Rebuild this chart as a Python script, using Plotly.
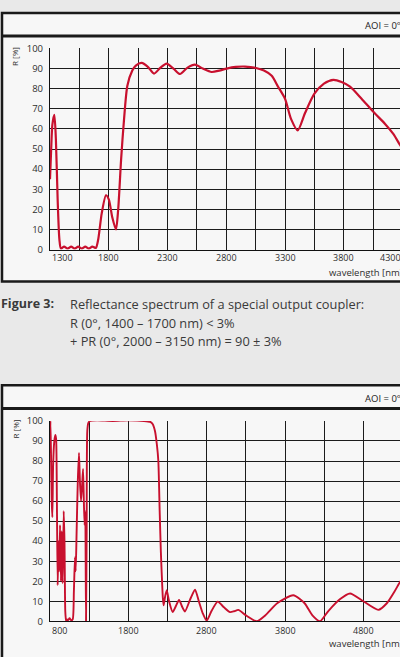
import plotly.graph_objects as go

# --- data ---
top_wl = [1300, 1310, 1320, 1337, 1350, 1365, 1380, 1393, 1420, 1450, 1480, 1510,
          1540, 1570, 1600, 1630, 1660, 1690, 1710, 1740, 1776, 1800, 1830, 1861,
          1880, 1905, 1930, 1958, 2000, 2030, 2080, 2130, 2185, 2240, 2292, 2350,
          2406, 2470, 2533, 2600, 2675, 2740, 2803, 2880, 2959, 3052, 3120, 3186,
          3240, 3299, 3350, 3407, 3470, 3549, 3630, 3711, 3780, 3852, 3950, 4050,
          4150, 4220, 4277, 4300]
top_r = [35, 50, 62, 67, 55, 25, 5, 0.5, 1.5, 0.5, 1.5, 0.5,
         1.5, 0.5, 1.5, 0.5, 1.5, 0.8, 5, 18, 27, 25, 16, 10,
         20, 45, 65, 81.5, 89, 91.5, 92.8, 91, 87.5, 90.5, 92.5, 90,
         87.3, 90.5, 92, 90, 88.3, 89, 90, 90.8, 91, 90.3, 89, 86.4,
         81, 75, 65, 59.3, 68, 77.5, 82.5, 84.4, 83.3, 81, 75, 68.5,
         62.5, 57.5, 52, 50]

bot_wl = [800, 805, 812, 822, 830, 840, 855, 868, 878, 888, 898, 908, 918, 928,
          940, 950, 962, 975, 985, 995, 1005, 1013, 1030, 1050, 1070, 1090, 1105,
          1119, 1128, 1140, 1155, 1170, 1182, 1196, 1210, 1222, 1232, 1242, 1250,
          1260, 1268, 1276, 1290, 1311, 1400, 1600, 1800, 2000, 2080, 2110, 2140,
          2165, 2183, 2200, 2215, 2226, 2240, 2250, 2268, 2290, 2320, 2366, 2400,
          2447, 2490, 2523, 2590, 2651, 2700, 2750, 2800, 2860, 2941, 3020, 3098,
          3150, 3204, 3300, 3439, 3550, 3700, 3906, 4050, 4150, 4247, 4350, 4500,
          4630, 4800, 4991, 5100, 5200, 5268, 5300]
bot_r = [84, 100, 86, 60, 52, 78, 90, 93, 91, 60, 18, 40, 25, 48,
         20, 45, 19, 55, 40, 5, 0, 1, 0.5, 1.5, 0.5, 1, 15,
         32, 25, 45, 70, 84, 70, 60, 68, 76, 60, 48, 55,
         0, 45, 95, 99, 100, 100.3, 100, 100.3, 100, 99.5, 98.5, 95,
         88, 80, 55, 35, 24, 12, 8, 12, 15.5, 10, 4.6, 7,
         10.6, 7, 4.9, 11, 15.8, 10, 4, 0.3, 5, 9.8, 7, 4.6,
         5, 5.7, 3, 0, 3, 9, 13, 9, 3, 0, 5, 11,
         13.9, 10, 5.7, 9, 15, 19.6, 21]

top_ticks = [1300, 1800, 2300, 2800, 3300, 3800, 4300]
bot_ticks = [800, 1800, 2800, 3800, 4800, 5800]
top_range = [1300, 4277]
bot_range = [800, 5268]

W, H = 400, 657
RED = '#c8102e'
GRID = '#1c1c1c'
TXT = '#2e2e2e'
FONT = 'Open Sans'


def px(p):
    return p / W


def py(p):
    return 1 - p / H


top_dom_x = [px(50), 1.0]
top_dom_y = [py(247.5), py(42.3)]
bot_dom_x = [px(50), 1.0]
bot_dom_y = [py(626.7), py(422.3)]

fig = go.Figure()
fig.add_trace(go.Scatter(x=top_wl, y=top_r, mode='lines', xaxis='x', yaxis='y',
                         line=dict(color=RED, width=2.2, shape='spline', smoothing=0.7),
                         hoverinfo='skip'))
fig.add_trace(go.Scatter(x=bot_wl, y=bot_r, mode='lines', xaxis='x2', yaxis='y2',
                         line=dict(color=RED, width=1.9, shape='spline', smoothing=0.6),
                         hoverinfo='skip'))


def xaxis(dom, rng, t0, dt):
    return dict(domain=dom, range=rng, tick0=t0, dtick=dt, showticklabels=False,
                showgrid=True, gridcolor=GRID, gridwidth=1.1, zeroline=False,
                showline=True, linecolor='#111111', linewidth=1.2, ticks='',
                minor=dict(tick0=t0, dtick=dt / 2, showgrid=True, gridcolor=GRID,
                           gridwidth=1.1))


def yaxis(dom):
    return dict(domain=dom, range=[0, 100], dtick=10, showgrid=True,
                gridcolor=GRID, gridwidth=1.1, zeroline=False, showline=True,
                linecolor='#111111', linewidth=1.2, ticks='outside', ticklen=4,
                tickcolor='rgba(0,0,0,0)', tickfont=dict(family=FONT, size=9.5, color=TXT))


fig.update_layout(
    width=W, height=H, margin=dict(l=0, r=0, t=0, b=0),
    paper_bgcolor='#e9e9e9', plot_bgcolor='#fafafa', showlegend=False,
    xaxis=xaxis(top_dom_x, top_range, 1300, 500),
    yaxis=yaxis(top_dom_y),
    xaxis2=dict(xaxis(bot_dom_x, bot_range, 800, 1000), anchor='y2'),
    yaxis2=dict(yaxis(bot_dom_y), anchor='x2'),
)

# boxes around each chart (cut off by the right/bottom of the crop)
shapes = []
for top, sep, bottom in [(6, 29.5, 280), (386, 409.5, 680)]:
    shapes.append(dict(type='rect', xref='paper', yref='paper', x0=px(2), x1=px(420),
                       y0=py(bottom), y1=py(top), line=dict(color='#1a1a1a', width=2.5),
                       fillcolor='#f7f7f7', layer='below'))
    shapes.append(dict(type='line', xref='paper', yref='paper', x0=px(2), x1=px(420),
                       y0=py(sep), y1=py(sep), line=dict(color='#1a1a1a', width=3)))
fig.update_layout(shapes=shapes)

ann = []


def tick_labels(ticks, rng, dom, ypix, last_is_end):
    for i, v in enumerate(ticks):
        xp = dom[0] + (v - rng[0]) / (rng[1] - rng[0]) * (dom[1] - dom[0])
        anchor = 'center'
        if i == 0:
            anchor = 'left'
        elif i == len(ticks) - 1 and last_is_end:
            anchor = 'right'
        ann.append(dict(x=xp, y=py(ypix), xref='paper', yref='paper', text=str(v),
                        showarrow=False, xanchor=anchor, yanchor='middle',
                        font=dict(family=FONT, size=9, color=TXT)))


tick_labels(top_ticks, top_range, top_dom_x, 256, True)
tick_labels(bot_ticks, bot_range, bot_dom_x, 636, True)

for ytxt, yr, yw in [(19, 51, 271), (399, 431, 649)]:
    ann.append(dict(x=px(403), y=py(ytxt), xref='paper', yref='paper', text='AOI = 0°',
                    showarrow=False, xanchor='right', yanchor='middle',
                    font=dict(family=FONT, size=9.5, color='#222222')))
    ann.append(dict(x=px(15), y=py(yr), xref='paper', yref='paper', text='R [%]',
                    textangle=-90, showarrow=False, xanchor='center', yanchor='middle',
                    font=dict(family=FONT, size=8, color=TXT)))
    ann.append(dict(x=px(405), y=py(yw), xref='paper', yref='paper',
                    text='wavelength [nm]', showarrow=False, xanchor='right',
                    yanchor='middle', font=dict(family=FONT, size=9.5, color=TXT)))

caption = ['Reflectance spectrum of a special output coupler:',
           'R (0°, 1400 – 1700 nm) < 3%',
           '+ PR (0°, 2000 – 3150 nm) = 90 ± 3%']
ann.append(dict(x=px(-1), y=py(302.7), xref='paper', yref='paper', text='<b>Figure 3:</b>',
                showarrow=False, xanchor='left', yanchor='middle',
                font=dict(family=FONT, size=12.5, color='#3a3a3a')))
for line, ypix in zip(caption, [302.7, 322.7, 341]):
    ann.append(dict(x=px(68), y=py(ypix), xref='paper', yref='paper', text=line,
                    showarrow=False, xanchor='left', yanchor='middle',
                    font=dict(family=FONT, size=12.8, color='#3a3a3a')))

fig.update_layout(annotations=ann)

# page has default body margins; drop them so the figure sits at 0,0
fig.write_html('out.html', config={'displayModeBar': False},
               post_script="document.body.style.margin='0';"
                           "document.body.style.overflow='hidden';")
